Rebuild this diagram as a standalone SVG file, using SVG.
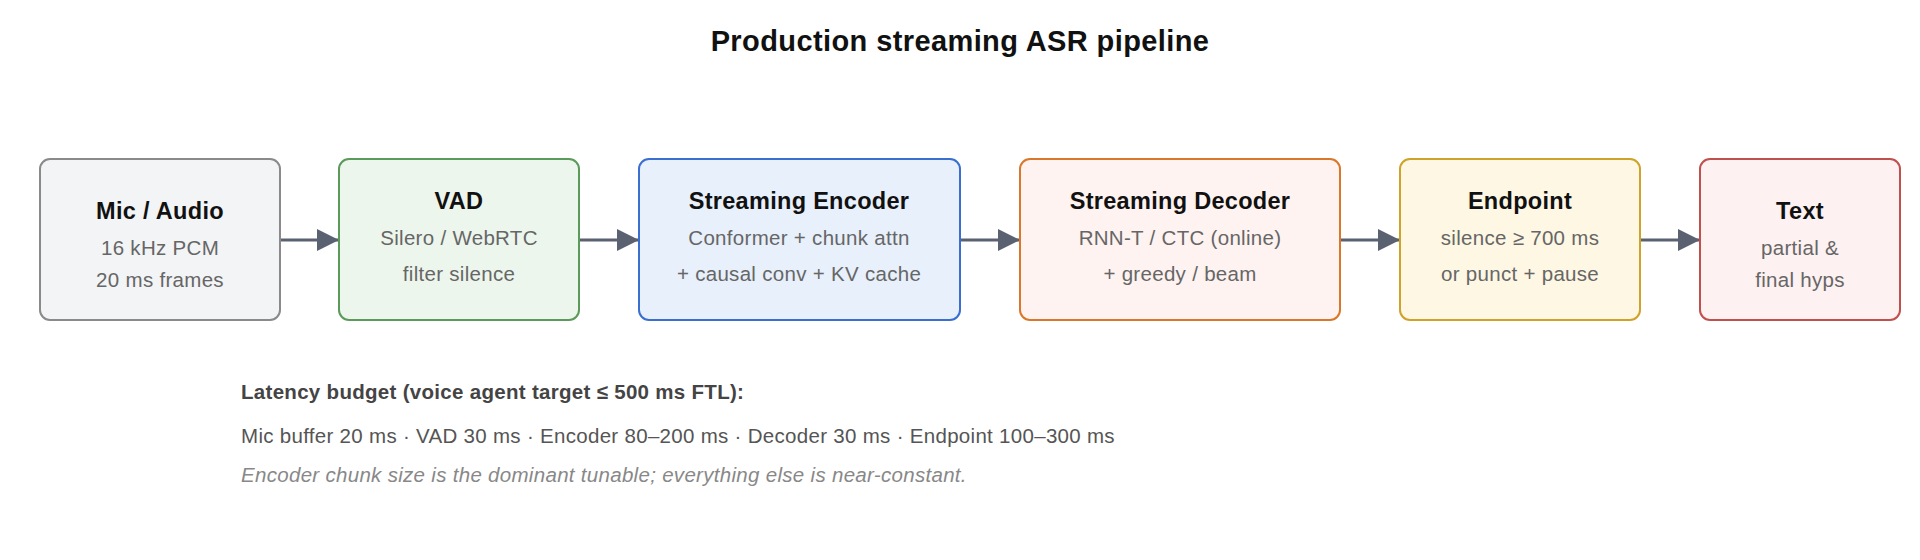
<svg xmlns="http://www.w3.org/2000/svg" width="1920" height="560" viewBox="0 0 1920 560">
<style>
text{font-family:"Liberation Sans",Arial,sans-serif;text-anchor:middle}
.t{font-size:23.5px;font-weight:bold;fill:#111;letter-spacing:0.3px}
.s{font-size:20.5px;fill:#666;letter-spacing:0.3px}
.b{stroke-width:2}
.c{stroke:#5a6170;stroke-width:3;fill:none}
.l{text-anchor:start;font-size:20.5px;letter-spacing:0.3px}
</style>
<defs>
<marker id="h" viewBox="0 0 10 10" refX="10" refY="5" markerWidth="22" markerHeight="22" markerUnits="userSpaceOnUse" orient="auto"><path d="M0,0L10,5L0,10z" fill="#5a6170"/></marker></defs>
<rect width="1920" height="560" fill="#fff"/>
<text x="960" y="51" style="font-size:29px;font-weight:bold;fill:#111;letter-spacing:0.4px">Production streaming ASR pipeline</text>
<g id="connectors">
<line class="c" x1="280" y1="240" x2="339" y2="240" marker-end="url(#h)"/>
<line class="c" x1="579" y1="240" x2="639" y2="240" marker-end="url(#h)"/>
<line class="c" x1="960" y1="240" x2="1020" y2="240" marker-end="url(#h)"/>
<line class="c" x1="1340" y1="240" x2="1400" y2="240" marker-end="url(#h)"/>
<line class="c" x1="1640" y1="240" x2="1700" y2="240" marker-end="url(#h)"/>
</g>
<g id="mic"><rect class="b" x="40" y="159" width="240" height="161" rx="10" fill="#f3f4f6" stroke="#8a8a8a"/>
<text class="t" x="160" y="219">Mic / Audio</text><text class="s" x="160" y="255">16 kHz PCM</text><text class="s" x="160" y="287">20 ms frames</text></g>
<g id="vad"><rect class="b" x="339" y="159" width="240" height="161" rx="10" fill="#edf6ec" stroke="#5a9a5a"/>
<text class="t" x="459" y="209">VAD</text><text class="s" x="459" y="245">Silero / WebRTC</text><text class="s" x="459" y="281">filter silence</text></g>
<g id="encoder"><rect class="b" x="639" y="159" width="321" height="161" rx="10" fill="#e8f0fc" stroke="#3a6fcf"/>
<text class="t" x="799" y="209">Streaming Encoder</text><text class="s" x="799" y="245">Conformer + chunk attn</text><text class="s" x="799" y="281">+ causal conv + KV cache</text></g>
<g id="decoder"><rect class="b" x="1020" y="159" width="320" height="161" rx="10" fill="#fef3f0" stroke="#d9782a"/>
<text class="t" x="1180" y="209">Streaming Decoder</text><text class="s" x="1180" y="245">RNN-T / CTC (online)</text><text class="s" x="1180" y="281">+ greedy / beam</text></g>
<g id="endpoint"><rect class="b" x="1400" y="159" width="240" height="161" rx="10" fill="#fef7e4" stroke="#cfa22a"/>
<text class="t" x="1520" y="209">Endpoint</text><text class="s" x="1520" y="245">silence ≥ 700 ms</text><text class="s" x="1520" y="281">or punct + pause</text></g>
<g id="text"><rect class="b" x="1700" y="159" width="200" height="161" rx="10" fill="#fdf1f1" stroke="#c0504d"/>
<text class="t" x="1800" y="219">Text</text><text class="s" x="1800" y="255">partial &amp;</text><text class="s" x="1800" y="287">final hyps</text></g>
<g id="notes">
<text class="l" x="241" y="399" style="font-weight:bold;fill:#444">Latency budget (voice agent target ≤ 500 ms FTL):</text>
<text class="l" x="241" y="443" style="fill:#555">Mic buffer 20 ms · VAD 30 ms · Encoder 80–200 ms · Decoder 30 ms · Endpoint 100–300 ms</text>
<text class="l" x="241" y="482" style="fill:#888;font-style:italic">Encoder chunk size is the dominant tunable; everything else is near-constant.</text>
</g>
</svg>
